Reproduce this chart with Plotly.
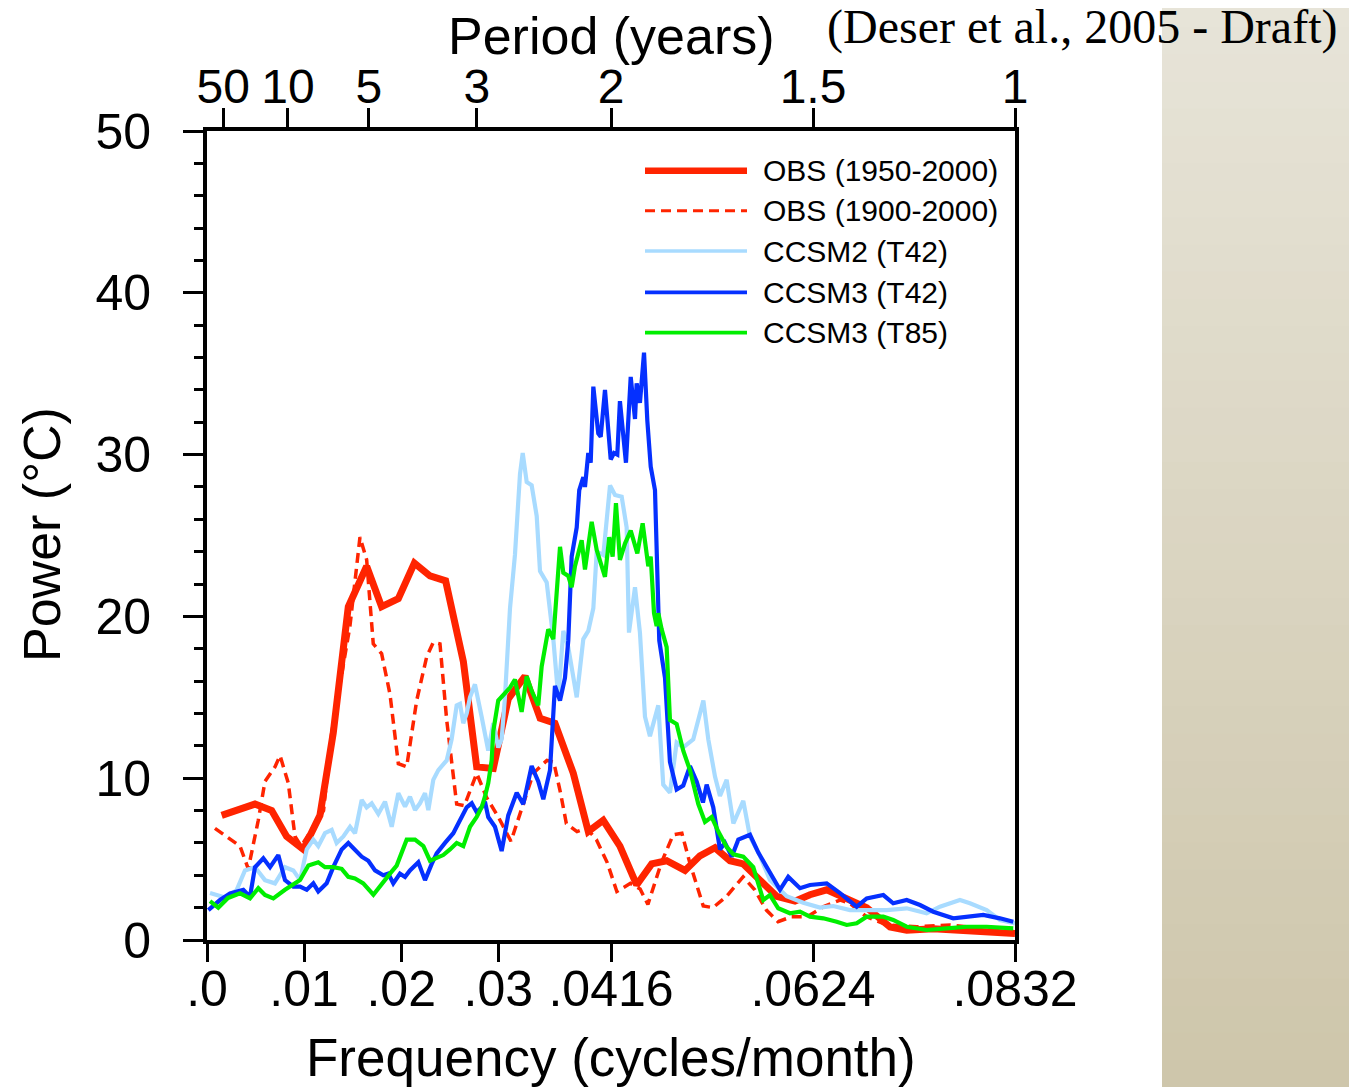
import plotly.graph_objects as go

# ---------------- data (frequency in cycles/month, power in degC) ----------------
OBS_1950 = [(0.00151, 7.7), (0.00494, 8.4), (0.00666, 8.0), (0.00820, 6.4), (0.00992, 5.6),
            (0.01163, 7.7), (0.01300, 12.8), (0.01455, 20.6), (0.01644, 23.1), (0.01798, 20.6),
            (0.01970, 21.1), (0.02135, 23.3), (0.02296, 22.5), (0.02457, 22.2), (0.02640, 17.2),
            (0.02777, 10.7), (0.02948, 10.6), (0.03102, 14.9), (0.03274, 16.3), (0.03430, 13.7),
            (0.03583, 13.4), (0.03772, 10.3), (0.03926, 6.7), (0.04080, 7.4), (0.04252, 5.8),
            (0.04424, 3.4), (0.04579, 4.7), (0.04733, 4.9), (0.04922, 4.3), (0.05076, 5.2),
            (0.05231, 5.7), (0.05385, 4.9), (0.05522, 4.7), (0.05694, 3.7), (0.05866, 2.7),
            (0.06054, 2.4), (0.06209, 2.8), (0.06381, 3.1), (0.06587, 2.6), (0.06793, 2.0),
            (0.07033, 0.8), (0.07205, 0.6), (0.07478, 0.7), (0.07822, 0.6), (0.08320, 0.4)]

OBS_1900 = [(0.00082, 6.9), (0.00340, 5.8), (0.00425, 4.4), (0.00528, 7.4), (0.00597, 9.8),
            (0.00700, 10.7), (0.00752, 11.4), (0.00837, 9.7), (0.00906, 6.4), (0.00970, 5.8),
            (0.01200, 8.0), (0.01284, 12.8), (0.01472, 19.4), (0.01524, 22.0), (0.01575, 24.9),
            (0.01644, 23.5), (0.01712, 18.3), (0.01798, 17.7), (0.01884, 15.2), (0.01970, 10.9),
            (0.02056, 10.7), (0.02159, 14.8), (0.02262, 17.5), (0.02330, 18.4), (0.02399, 18.3),
            (0.02468, 13.6), (0.02520, 11.1), (0.02571, 8.4), (0.02650, 8.3), (0.02777, 10.3),
            (0.02880, 8.8), (0.03000, 7.6), (0.03130, 6.1), (0.03260, 8.5), (0.03360, 10.3),
            (0.03500, 11.1), (0.03570, 11.0), (0.03640, 9.1), (0.03700, 7.2), (0.03810, 6.7),
            (0.03910, 6.9), (0.04010, 6.2), (0.04120, 4.8), (0.04220, 3.0), (0.04360, 3.5),
            (0.04460, 3.15), (0.04540, 2.2), (0.04680, 4.8), (0.04800, 6.5), (0.04890, 6.6),
            (0.04970, 4.8), (0.05110, 2.1), (0.05210, 2.0), (0.05350, 2.7), (0.05520, 3.9),
            (0.05640, 3.1), (0.05760, 1.85), (0.05880, 1.13), (0.06020, 1.44), (0.06180, 1.44),
            (0.06350, 2.06), (0.06520, 2.47), (0.06620, 2.27), (0.06790, 1.44), (0.07000, 0.93),
            (0.07310, 0.82), (0.07650, 0.93), (0.07990, 0.72), (0.08320, 0.5)]

CCSM2_T42 = [(0.00031, 2.9), (0.00203, 2.6), (0.00306, 3.1), (0.00391, 4.3), (0.00494, 4.5),
             (0.00597, 3.7), (0.00700, 3.5), (0.00803, 4.5), (0.00889, 4.3), (0.00958, 3.7),
             (0.01027, 5.6), (0.01095, 6.2), (0.01146, 5.8), (0.01215, 6.6), (0.01284, 6.8),
             (0.01335, 6.0), (0.01404, 6.4), (0.01473, 7.0), (0.01524, 6.6), (0.01593, 8.65),
             (0.01644, 8.2), (0.01696, 8.45), (0.01764, 7.8), (0.01833, 8.55), (0.01902, 7.0),
             (0.01970, 9.07), (0.02039, 8.24), (0.02090, 8.86), (0.02142, 8.03), (0.02193, 8.45),
             (0.02245, 9.07), (0.02279, 8.03), (0.02330, 9.9), (0.02382, 10.5), (0.02468, 11.1),
             (0.02519, 12.4), (0.02571, 14.5), (0.02605, 14.6),
             (0.02639, 13.4), (0.02674, 14.0), (0.02708, 15.0), (0.02759, 15.8), (0.02828, 13.8),
             (0.02896, 11.7), (0.02948, 13.4), (0.02999, 11.9), (0.03034, 12.4), (0.03068, 15.0),
             (0.03120, 20.5), (0.03171, 23.8), (0.03223, 28.8), (0.03251, 30.1), (0.03292, 28.3),
             (0.03343, 28.1), (0.03395, 26.2), (0.03429, 22.8), (0.03498, 22.1), (0.03566, 18.6),
             (0.03617, 15.0), (0.03669, 19.1), (0.03720, 18.1), (0.03807, 15.0), (0.03875, 18.6),
             (0.03926, 19.1), (0.03978, 20.5), (0.04013, 24.0), (0.04081, 23.8), (0.04150, 28.1),
             (0.04201, 27.5), (0.04270, 27.4), (0.04321, 25.5), (0.04345, 19.0), (0.04407, 21.8),
             (0.04458, 19.0), (0.04510, 13.8), (0.04561, 12.6), (0.04647, 14.5), (0.04698, 9.6),
             (0.04767, 9.1), (0.04836, 12.2), (0.04904, 11.9), (0.05007, 12.4), (0.05111, 14.8),
             (0.05162, 12.4), (0.05231, 10.1), (0.05282, 8.9), (0.05351, 9.9), (0.05420, 7.2),
             (0.05522, 8.6), (0.05591, 6.4), (0.05694, 5.2), (0.05797, 3.7), (0.05969, 2.7),
             (0.06140, 2.3), (0.06312, 2.0), (0.06449, 2.1), (0.06621, 1.85), (0.06827, 1.85),
             (0.06999, 1.85), (0.07205, 1.96), (0.07410, 1.65), (0.07547, 2.06), (0.07753, 2.47),
             (0.07856, 2.27), (0.08028, 1.85), (0.08165, 1.24), (0.08320, 1.03)]

CCSM3_T42 = [(0.00013, 1.85), (0.00100, 2.27), (0.00134, 2.47), (0.00237, 2.88), (0.00374, 3.1),
             (0.00443, 2.68), (0.00494, 4.5), (0.00580, 5.05), (0.00649, 4.5), (0.00734, 5.25),
             (0.00803, 3.7), (0.00889, 3.3), (0.00958, 3.3), (0.01027, 3.1), (0.01095, 3.5),
             (0.01146, 3.0), (0.01232, 3.5), (0.01300, 4.5), (0.01387, 5.6), (0.01455, 6.0),
             (0.01524, 5.6), (0.01593, 5.15), (0.01661, 4.9), (0.01730, 4.3), (0.01815, 4.0),
             (0.01867, 4.1), (0.01918, 3.5), (0.01987, 4.1), (0.02039, 3.9), (0.02090, 4.3),
             (0.02176, 4.8), (0.02245, 3.7), (0.02314, 4.7), (0.02365, 5.35), (0.02451, 6.0),
             (0.02536, 6.6), (0.02605, 7.4), (0.02674, 8.2), (0.02726, 8.45), (0.02777, 7.9),
             (0.02828, 8.2), (0.02862, 8.55), (0.02896, 7.6), (0.02965, 7.0),
             (0.03034, 5.5), (0.03102, 7.7), (0.03189, 9.1),
             (0.03257, 8.4), (0.03343, 10.75), (0.03411, 9.8), (0.03463, 8.7), (0.03532, 10.5),
             (0.03583, 15.7), (0.03635, 14.8), (0.03686, 16.2), (0.03720, 18.5), (0.03755, 23.7),
             (0.03807, 25.5), (0.03833, 27.8), (0.03875, 28.6), (0.03892, 28.0), (0.03926, 30.1),
             (0.03951, 29.5), (0.03978, 34.2), (0.04029, 31.3), (0.04054, 31.1), (0.04098, 34.0),
             (0.04157, 29.7), (0.04191, 30.1), (0.04225, 30.0), (0.04252, 33.3), (0.04280, 31.7),
             (0.04314, 29.5), (0.04363, 34.8), (0.04407, 32.2), (0.04424, 34.4), (0.04458, 33.2),
             (0.04500, 36.3), (0.04534, 32.1), (0.04569, 29.25), (0.04613, 27.8), (0.04637, 22.7),
             (0.04657, 18.5), (0.04716, 16.2), (0.04767, 11.0), (0.04836, 9.3), (0.04904, 9.55),
             (0.04973, 10.75), (0.05042, 9.8), (0.05107, 8.5), (0.05145, 9.6), (0.05213, 8.2),
             (0.05282, 5.6), (0.05334, 6.0), (0.05403, 5.15), (0.05471, 6.2), (0.05591, 6.5),
             (0.05677, 5.4), (0.05763, 4.5), (0.05900, 3.1), (0.05985, 3.9), (0.06106, 3.2),
             (0.06209, 3.4), (0.06381, 3.5), (0.06518, 2.9), (0.06690, 2.06), (0.06793, 2.57),
             (0.06964, 2.78), (0.07066, 2.27), (0.07205, 2.47), (0.07342, 2.16), (0.07478, 1.75),
             (0.07684, 1.34), (0.07822, 1.44), (0.07993, 1.55), (0.08165, 1.34), (0.08302, 1.13)]

CCSM3_T85 = [(0.00031, 2.4), (0.00116, 2.0), (0.00216, 2.6), (0.00340, 2.88), (0.00443, 2.57),
             (0.00528, 3.2), (0.00597, 2.78), (0.00683, 2.57), (0.00803, 3.1), (0.00855, 3.3),
             (0.00906, 3.5), (0.00958, 3.7), (0.01044, 4.6), (0.01146, 4.8), (0.01215, 4.5),
             (0.01300, 4.5), (0.01387, 4.4), (0.01455, 3.9), (0.01524, 3.8), (0.01609, 3.5),
             (0.01713, 2.8), (0.01799, 3.5), (0.01884, 4.1), (0.01953, 4.6), (0.02056, 6.2),
             (0.02142, 6.2), (0.02228, 5.8), (0.02296, 4.9), (0.02365, 5.05), (0.02433, 5.25),
             (0.02502, 5.6), (0.02571, 6.0), (0.02639, 5.8), (0.02708, 7.0), (0.02777, 7.6),
             (0.02828, 8.2), (0.02862, 8.86), (0.02896, 9.7), (0.02931, 11.1),
             (0.02948, 12.9), (0.02999, 14.8), (0.03068, 15.25), (0.03120, 15.6), (0.03171, 16.1),
             (0.03240, 14.1), (0.03292, 16.3), (0.03343, 15.4), (0.03411, 14.5), (0.03446, 16.9),
             (0.03514, 19.2), (0.03566, 18.6), (0.03635, 24.3), (0.03669, 22.7), (0.03720, 22.5),
             (0.03755, 21.8), (0.03789, 23.1), (0.03858, 24.7), (0.03892, 22.9), (0.03961, 25.85),
             (0.04013, 24.1), (0.04098, 22.45), (0.04142, 24.9), (0.04177, 23.7), (0.04211, 27.0),
             (0.04252, 23.5), (0.04304, 24.5), (0.04363, 25.3), (0.04431, 23.9), (0.04486, 25.75),
             (0.04544, 23.1), (0.04569, 23.7), (0.04603, 20.2), (0.04630, 19.4), (0.04647, 20.2),
             (0.04682, 19.2), (0.04733, 18.1),
             (0.04767, 13.6), (0.04836, 13.35), (0.04904, 11.7), (0.04973, 10.5), (0.05059, 8.4),
             (0.05128, 7.3), (0.05197, 7.6), (0.05265, 6.7), (0.05351, 5.75), (0.05420, 5.3),
             (0.05522, 5.15), (0.05625, 4.5), (0.05728, 2.47), (0.05797, 2.78), (0.05882, 1.96),
             (0.06003, 1.65), (0.06106, 1.75), (0.06209, 1.44), (0.06346, 1.34), (0.06484, 1.13),
             (0.06587, 0.93), (0.06690, 1.03), (0.06793, 1.44), (0.06964, 1.44), (0.07066, 1.24),
             (0.07205, 0.82), (0.07410, 0.62), (0.07616, 0.72), (0.07822, 0.82), (0.08028, 0.82),
             (0.08302, 0.72)]

SERIES_NAMES = ["OBS (1950-2000)", "OBS (1900-2000)", "CCSM2 (T42)", "CCSM3 (T42)", "CCSM3 (T85)"]

FREQ_TICKS = [0.0, 0.01, 0.02, 0.03, 0.0416, 0.0624, 0.0832]
FREQ_LABELS = [".0", ".01", ".02", ".03", ".0416", ".0624", ".0832"]
PERIOD_TICKS = [0.00167, 0.00833, 0.01667, 0.02778, 0.0416, 0.0624, 0.0832]
PERIOD_LABELS = ["50", "10", "5", "3", "2", "1.5", "1"]

# ---------------- styles ----------------
RED = "#FF2400"
STYLES = [
    dict(color=RED, width=7),
    dict(color=RED, width=3.5, dash="10px,6px"),
    dict(color="#A8DBFF", width=4.2),
    dict(color="#0530FF", width=4.2),
    dict(color="#00EE00", width=4.2),
]
SANS = "Liberation Sans, Arial, Helvetica, sans-serif"
SERIF = "Liberation Serif, Times New Roman, serif"

# page has an 8px body margin: figure is placed at (8, 8)
OFF = 8
PAGE_W, PAGE_H = 1357, 1087
W, H = PAGE_W - OFF, PAGE_H - OFF
L, R, T, B = 207, 1015, 131, 940   # plot area in page pixels


def px(x):
    return (x - L) / (R - L)


def py(y):
    return (B - y) / (B - T)


fig = go.Figure()
for data, name, st in zip([OBS_1950, OBS_1900, CCSM2_T42, CCSM3_T42, CCSM3_T85], SERIES_NAMES, STYLES):
    fig.add_trace(go.Scatter(x=[d[0] for d in data], y=[d[1] for d in data], mode="lines",
                             name=name, line=dict(shape="linear", **st), showlegend=False))
# invisible trace to anchor the top (period) axis
fig.add_trace(go.Scatter(x=[0.0, 0.0832], y=[None, None], xaxis="x2", mode="lines",
                         showlegend=False, hoverinfo="skip"))

shapes = []
# beige gradient panel on the right
n = 40
c0 = (0xE7, 0xE4, 0xD8)
c1 = (0xCE, 0xC6, 0xAB)
for i in range(n):
    t = i / (n - 1)
    col = "rgb(%d,%d,%d)" % tuple(round(a + (b - a) * t) for a, b in zip(c0, c1))
    y0 = i * PAGE_H / n
    y1 = (i + 1) * PAGE_H / n + 1
    shapes.append(dict(type="rect", xref="paper", yref="paper", x0=px(1162), x1=px(1400),
                       y0=py(y1), y1=py(y0), fillcolor=col, line=dict(width=0), layer="below"))

# manual legend
rows = [170.7, 210.7, 251, 292.3, 332.7]
annotations = []
for yy, name, st in zip(rows, SERIES_NAMES, STYLES):
    ln = dict(color=st["color"], width=st["width"] - 0.5)
    if "dash" in st:
        ln["dash"] = st["dash"]
    shapes.append(dict(type="line", xref="paper", yref="paper", x0=px(645), x1=px(747),
                       y0=py(yy), y1=py(yy), line=ln))
    annotations.append(dict(text=name, xref="paper", yref="paper", x=px(761), y=py(yy),
                            xanchor="left", yanchor="middle", showarrow=False,
                            font=dict(family=SANS, size=30, color="black")))

annotations += [
    dict(text="Period (years)", xref="paper", yref="paper", x=0.5, y=py(36),
         xanchor="center", yanchor="middle", showarrow=False,
         font=dict(family=SANS, size=52, color="black")),
    dict(text="Frequency (cycles/month)", xref="paper", yref="paper", x=0.5, y=py(1057),
         xanchor="center", yanchor="middle", showarrow=False,
         font=dict(family=SANS, size=53, color="black")),
    dict(text="Power (°C)", xref="paper", yref="paper", x=px(42), y=py(535),
         xanchor="center", yanchor="middle", textangle=-90, showarrow=False,
         font=dict(family=SANS, size=52, color="black")),
    dict(text="(Deser et al., 2005 - Draft)", xref="paper", yref="paper", x=px(1339), y=py(27),
         xanchor="right", yanchor="middle", showarrow=False,
         font=dict(family=SERIF, size=48, color="black")),
]


def tickfont(size):
    return dict(family=SANS, size=size, color="black")


axis_common = dict(showgrid=False, zeroline=False, tickcolor="black")

fig.update_layout(
    width=W, height=H,
    margin=dict(l=L - OFF, r=PAGE_W - R, t=T - OFF, b=PAGE_H - B, pad=0),
    paper_bgcolor="white", plot_bgcolor="white",
    showlegend=False,
    shapes=shapes, annotations=annotations,
    xaxis=dict(range=[0, 0.0832], tickmode="array", tickvals=FREQ_TICKS, ticktext=FREQ_LABELS,
               ticks="outside", ticklen=18, tickwidth=3, showline=True, linewidth=4,
               linecolor="black", mirror=True, ticklabelstandoff=-16,
               tickfont=tickfont(50), **axis_common),
    xaxis2=dict(range=[0, 0.0832], overlaying="x", side="top", anchor="y", tickmode="array",
                tickvals=PERIOD_TICKS, ticktext=PERIOD_LABELS, ticks="outside", ticklen=22,
                tickwidth=3, showline=False, ticklabelstandoff=-14,
                tickfont=tickfont(48), **axis_common),
    yaxis=dict(range=[0, 50], tickmode="linear", tick0=0, dtick=10, ticks="outside",
               ticklen=20, tickwidth=3, showline=True, linewidth=4, linecolor="black",
               mirror=True, ticklabelstandoff=22, tickfont=tickfont(50),
               minor=dict(dtick=2, tick0=0, ticks="outside", ticklen=9, tickwidth=3,
                          tickcolor="black"),
               **axis_common),
)

fig.write_html("out.html")
